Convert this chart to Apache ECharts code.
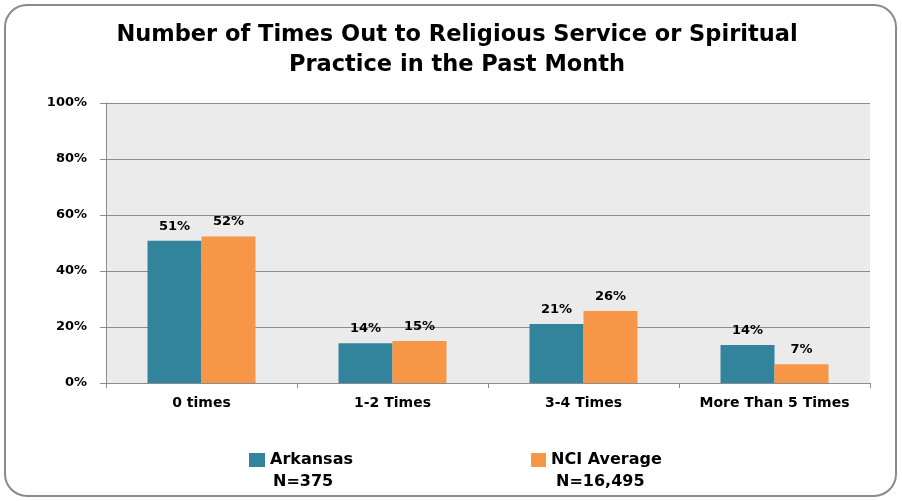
<!DOCTYPE html>
<html><head><meta charset="utf-8">
<script src="https://cdn.jsdelivr.net/npm/echarts@6/dist/echarts.min.js"></script>
<style>html,body{margin:0;padding:0;background:#fff}#c{width:902px;height:501px}</style>
</head><body><div id="c"></div>
<script>
const categories = ['0 times', '1-2 Times', '3-4 Times', 'More Than 5 Times'];
const arkansas = [50.8, 14.2, 21.1, 13.6];
const nciAverage = [52.3, 15.0, 25.7, 6.7];
const seriesNames = ['Arkansas', 'NCI Average'];
const sampleSizes = ['N=375', 'N=16,495'];
const yTicks = [0, 20, 40, 60, 80, 100];
const titleText = 'Number of Times Out to Religious Service or Spiritual\nPractice in the Past Month';

const FONT = 'DejaVu Sans';
const chart = echarts.init(document.getElementById('c'), null, {renderer: 'canvas'});
const labelCfg = {
  show: true, position: 'top', distance: 8,
  color: '#000', fontFamily: FONT, fontWeight: 'bold', fontSize: 13,
  formatter: p => Math.round(p.value) + '%'
};
const legendText = {fontFamily: FONT, fontWeight: 'bold', fontSize: 16, color: '#000'};
chart.setOption({
  animation: false,
  backgroundColor: '#fff',
  title: {
    text: titleText, left: 452, top: 15, textAlign: 'center',
    textStyle: {fontFamily: FONT, fontWeight: 'bold', fontSize: 22.5, lineHeight: 30, color: '#000'}
  },
  grid: {left: 106, right: 32, top: 103, bottom: 118, show: true, backgroundColor: '#ebebeb', borderWidth: 0},
  legend: [
    {data: [seriesNames[0]], left: 249, top: 452, padding: 0, icon: 'rect', itemWidth: 16, itemHeight: 14,
     textStyle: legendText},
    {data: [seriesNames[1]], left: 531, top: 452, padding: 0, icon: 'rect', itemWidth: 15, itemHeight: 14,
     textStyle: legendText}
  ],
  xAxis: {
    type: 'category', data: categories,
    axisLine: {lineStyle: {color: '#8c8c8c', width: 1}},
    axisTick: {show: true, alignWithLabel: false, length: 5, lineStyle: {color: '#8c8c8c'}},
    axisLabel: {interval: 0, color: '#000', fontFamily: FONT, fontWeight: 'bold', fontSize: 14, margin: 13}
  },
  yAxis: {
    type: 'value', min: 0, max: 100, interval: 20,
    axisLine: {show: true, lineStyle: {color: '#8c8c8c'}},
    axisTick: {show: true, length: 6, lineStyle: {color: '#8c8c8c'}},
    splitLine: {lineStyle: {color: '#8c8c8c', width: 1}},
    axisLabel: {color: '#000', fontFamily: FONT, fontWeight: 'bold', fontSize: 13, margin: 19,
      formatter: v => yTicks.includes(v) ? v + '%' : ''}
  },
  series: [
    {name: seriesNames[0], type: 'bar', data: arkansas, barWidth: 54, barGap: '0%',
     itemStyle: {color: '#31849b'}, label: labelCfg},
    {name: seriesNames[1], type: 'bar', data: nciAverage, barWidth: 54,
     itemStyle: {color: '#f79646'}, label: labelCfg}
  ],
  graphic: [
    {type: 'rect', z: -1, shape: {x: 5, y: 5, width: 891, height: 491, r: 22},
     style: {fill: 'none', stroke: '#8a8a8a', lineWidth: 2}},
    {type: 'text', left: 273, top: 474, style: {text: sampleSizes[0], font: 'bold 16px "DejaVu Sans"', fill: '#000'}},
    {type: 'text', left: 556, top: 474, style: {text: sampleSizes[1], font: 'bold 16px "DejaVu Sans"', fill: '#000'}}
  ]
});
</script></body></html>
